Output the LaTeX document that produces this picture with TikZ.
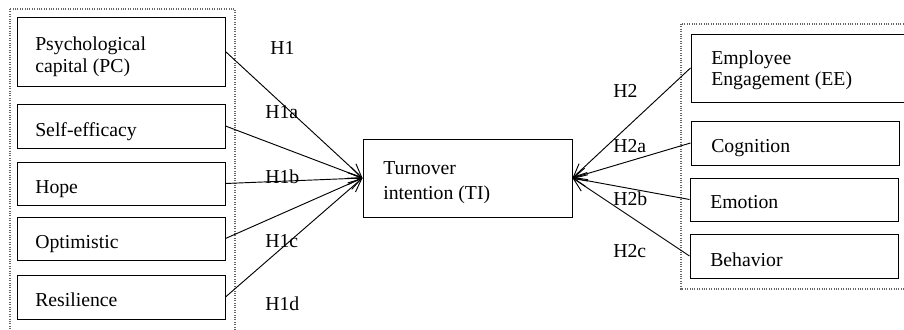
\documentclass[tikz,border=0pt]{standalone}
\usepackage{fontspec}
\setmainfont{Liberation Serif}
\usetikzlibrary{arrows.meta}
\begin{document}
\begin{tikzpicture}[x=0.75pt,y=-0.75pt,
  box/.style={draw=black, line width=0.75pt, rectangle, inner sep=0pt},
  grp/.style={draw=black!60, densely dotted, line width=0.8pt},
  txt/.style={font=\fontsize{14.8}{17}\selectfont, inner sep=0pt, anchor=base west},
  arr/.style={line width=0.7pt, -{Straight Barb[length=10pt,width=9pt,line width=0.7pt]}}
]
\useasboundingbox (0,0) rectangle (904,329);
\clip (0,0) rectangle (904,329);
% group frames
\draw[grp] (10,9) rectangle (235,345);
\draw[grp] (681,24) rectangle (915,289);
% left boxes
\node[box, minimum width=208*0.75pt, minimum height=69*0.75pt] (pc)  at (121,51.5) {};
\node[box, minimum width=208*0.75pt, minimum height=44*0.75pt] (se)  at (121,126) {};
\node[box, minimum width=208*0.75pt, minimum height=43*0.75pt] (hope) at (121,183.5) {};
\node[box, minimum width=208*0.75pt, minimum height=43*0.75pt] (opt) at (121,238.5) {};
\node[box, minimum width=208*0.75pt, minimum height=44*0.75pt] (res) at (121,297) {};
% center box
\node[box, minimum width=209*0.75pt, minimum height=78*0.75pt] (ti) at (467.5,178) {};
% right boxes
\node[box, minimum width=219*0.75pt, minimum height=68*0.75pt] (ee)  at (800.5,68) {};
\node[box, minimum width=208*0.75pt, minimum height=44*0.75pt] (cog) at (795,143) {};
\node[box, minimum width=208*0.75pt, minimum height=43*0.75pt] (emo) at (794,199.5) {};
\node[box, minimum width=208*0.75pt, minimum height=44*0.75pt] (beh) at (794,256) {};
% box texts
\node[txt] (pct1) at (35,50) {Psychological};
\node[txt] (pct2) at (35,72) {capital (PC)};
\node[txt] (set) at (35,136) {Self-efficacy};
\node[txt] (hopet) at (35,193) {Hope};
\node[txt] (optt) at (35,248) {Optimistic};
\node[txt] (rest) at (35,306) {Resilience};
\node[txt] (tit1) at (383,174) {Turnover};
\node[txt] (tit2) at (383,199) {intention (TI)};
\node[txt] (eet1) at (711,64) {Employee};
\node[txt] (eet2) at (711,85) {Engagement (EE)};
\node[txt] (cogt) at (711,152) {Cognition};
\node[txt] (emot) at (710,208) {Emotion};
\node[txt] (beht) at (710,266) {Behavior};
% connectors
\draw[arr] (pc.east) -- (ti.west);
\draw[arr] (se.east) -- (ti.west);
\draw[arr] (hope.east) -- (ti.west);
\draw[arr] (opt.east) -- (ti.west);
\draw[arr] (res.east) -- (ti.west);
\draw[arr] (ee.west) -- (ti.east);
\draw[arr] (cog.west) -- (ti.east);
\draw[arr] (emo.west) -- (ti.east);
\draw[arr] (beh.west) -- (ti.east);
% hypothesis labels
\node[txt] (h1)  at (270,54) {H1};
\node[txt] (h1a) at (265,118) {H1a};
\node[txt] (h1b) at (265,183) {H1b};
\node[txt] (h1c) at (265,247) {H1c};
\node[txt] (h1d) at (265,310) {H1d};
\node[txt] (h2)  at (613,97) {H2};
\node[txt] (h2a) at (613,152) {H2a};
\node[txt] (h2b) at (613,205) {H2b};
\node[txt] (h2c) at (613,257) {H2c};
\end{tikzpicture}
\end{document}
